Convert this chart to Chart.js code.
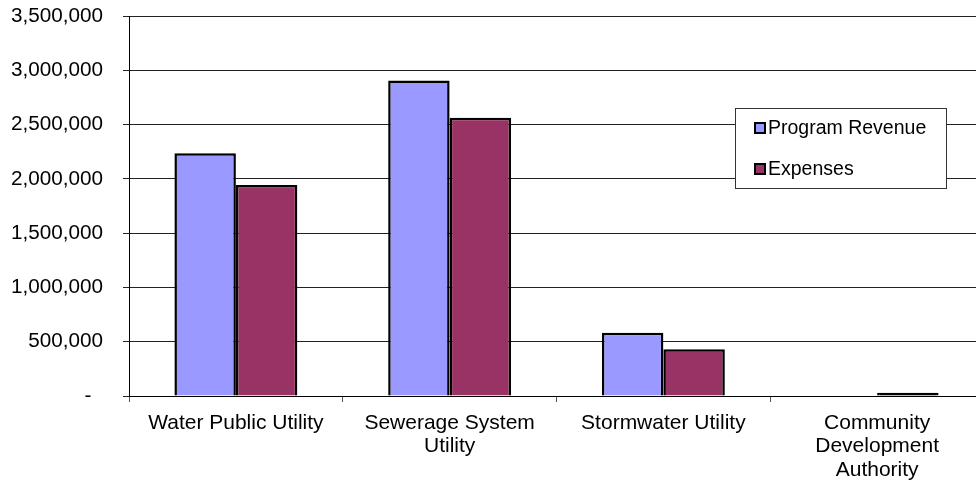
<!DOCTYPE html>
<html>
<head>
<meta charset="utf-8">
<script src="https://cdn.jsdelivr.net/npm/chart.js@4/dist/chart.umd.min.js"></script>
<style>
  html, body { margin: 0; padding: 0; background: #fff; overflow: hidden; }
  #wrap { width: 976px; height: 481px; overflow: hidden; }
  canvas { display: block; }
</style>
</head>
<body>
<div id="wrap"><canvas id="chart" width="990" height="481"></canvas></div>
<script>
// Business-type activities: program revenue vs. expenses
const categories = [
  'Water Public Utility',
  ['Sewerage System', 'Utility'],
  'Stormwater Utility',
  ['Community', 'Development', 'Authority']
];
const programRevenue = [2235000, 2905000, 583000, 0];
const expenses = [1943000, 2563000, 430000, 30000];
const yTicks = [0, 500000, 1000000, 1500000, 2000000, 2500000, 3000000, 3500000];

const FONT = 'Liberation Sans, Arial, sans-serif';

// Very short bars are all outline: paint them solid black like their border
function barFill(color) {
  return ctx => {
    const y = ctx.chart.scales.y;
    if (!y || ctx.raw == null) return color;
    const h = y.getPixelForValue(0) - y.getPixelForValue(ctx.raw);
    return (h > 0 && h < 6) ? '#000' : color;
  };
}

// Boxed legend drawn inside the plot area, upper right
const boxLegend = {
  id: 'boxLegend',
  afterDraw(chart) {
    const ctx = chart.ctx;
    const a = chart.chartArea;
    const w = 211, h = 80;
    const x = a.right - 38 - w;
    const y = a.top + 92;
    ctx.save();
    ctx.fillStyle = '#fff';
    ctx.fillRect(x, y, w, h);
    ctx.strokeStyle = '#333';
    ctx.lineWidth = 1;
    ctx.strokeRect(x + 0.5, y + 0.5, w, h);
    ctx.font = '19.5px ' + FONT;
    ctx.textBaseline = 'middle';
    chart.data.datasets.forEach((ds, i) => {
      const cy = y + 20 + i * 41;
      ctx.fillStyle = '#000';
      ctx.fillRect(x + 19, cy - 6, 12, 12);
      ctx.fillStyle = ds.legendColor;
      ctx.fillRect(x + 21, cy - 4, 8, 8);
      ctx.fillStyle = '#000';
      ctx.fillText(ds.label, x + 33, cy + 1);
    });
    ctx.restore();
  }
};

new Chart(document.getElementById('chart'), {
  type: 'bar',
  data: {
    labels: categories,
    datasets: [
      { label: 'Program Revenue', data: programRevenue, legendColor: '#9999FF', backgroundColor: barFill('#9999FF'), borderColor: '#000', borderWidth: 2.5 },
      { label: 'Expenses', data: expenses, legendColor: '#993366', backgroundColor: barFill('#993366'), borderColor: '#000', borderWidth: 2.5 }
    ]
  },
  options: {
    responsive: false,
    animation: false,
    devicePixelRatio: 1,
    layout: { padding: { top: 0, right: 6, left: 0, bottom: 0 } },
    datasets: { bar: { categoryPercentage: 0.575, barPercentage: 1 } },
    plugins: { legend: { display: false }, tooltip: { enabled: false } },
    scales: {
      x: {
        afterFit(scale) { scale.height = 85; scale.paddingTop = 0; scale.paddingBottom = 0; },
        grid: { offset: true, drawOnChartArea: false, drawTicks: true, tickLength: 6, color: '#555' },
        border: { color: '#000', width: 1 },
        ticks: {
          color: '#000', font: { family: FONT, size: 21, lineHeight: 1.1 },
          padding: 10, maxRotation: 0, minRotation: 0, autoSkip: false
        }
      },
      y: {
        min: 0, max: 3500000,
        afterBuildTicks(scale) { scale.ticks = yTicks.map(v => ({ value: v })); },
        afterFit(scale) { scale.width = 129; scale.paddingTop = 16; scale.paddingBottom = 0; },
        grid: { color: '#222', lineWidth: 1, tickLength: 6 },
        border: { color: '#000', width: 1 },
        ticks: {
          color: '#000', font: { family: FONT, size: 20.7 }, padding: 20,
          callback: v => v === 0 ? '-  ' : v.toLocaleString('en-US')
        }
      }
    }
  },
  plugins: [boxLegend]
});
</script>
</body>
</html>
